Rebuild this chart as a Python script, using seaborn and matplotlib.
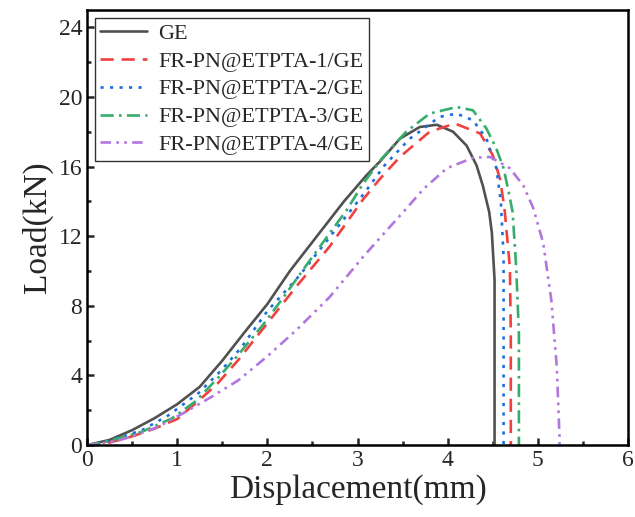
import numpy as np
import pandas as pd
import seaborn as sns
from matplotlib import pyplot as plt
from matplotlib.ticker import MultipleLocator

# load-displacement curves
ge_x = [0, 0.25, 0.5, 0.75, 1.0, 1.25, 1.5, 1.75, 2.0, 2.25, 2.55, 2.85, 3.1, 3.25, 3.47, 3.69, 3.88, 4.06, 4.21, 4.32, 4.39, 4.46, 4.49, 4.52, 4.52]
ge_y = [0, 0.3, 0.86, 1.55, 2.35, 3.35, 4.85, 6.5, 8.1, 10.0, 12.0, 14.0, 15.5, 16.3, 17.6, 18.27, 18.4, 18.0, 17.2, 16.07, 14.9, 13.4, 12.2, 9.5, 0]

fr1_x = [0, 0.25, 0.5, 0.75, 1.0, 1.25, 1.45, 1.68, 2.0, 2.32, 2.69, 3.06, 3.25, 3.47, 3.80, 4.08, 4.36, 4.50, 4.58, 4.63, 4.69, 4.70, 4.70]
fr1_y = [0, 0.15, 0.5, 0.95, 1.5, 2.6, 3.55, 4.9, 7.0, 9.1, 11.4, 14.1, 15.3, 16.55, 18.0, 18.47, 17.9, 16.65, 15.3, 13.6, 10.2, 6.4, 0]

fr2_x = [0, 0.25, 0.61, 0.9, 1.23, 1.49, 1.71, 2.0, 2.36, 2.73, 3.08, 3.30, 3.58, 3.91, 4.10, 4.28, 4.43, 4.54, 4.59, 4.62, 4.62]
fr2_y = [0, 0.25, 0.86, 1.7, 2.96, 4.3, 5.6, 7.7, 9.76, 12.2, 14.5, 16.07, 17.6, 18.85, 19.04, 18.66, 17.6, 15.9, 13.97, 10.8, 0]

fr3_x = [0, 0.25, 0.6, 0.94, 1.2, 1.46, 1.68, 1.95, 2.18, 2.47, 2.88, 3.06, 3.27, 3.54, 3.80, 4.10, 4.28, 4.43, 4.54, 4.62, 4.67, 4.72, 4.76, 4.79, 4.79]
fr3_y = [0, 0.25, 0.75, 1.53, 2.5, 3.9, 5.2, 6.9, 8.5, 10.6, 13.5, 15.0, 16.46, 18.0, 19.04, 19.42, 19.23, 18.18, 17.03, 15.9, 14.7, 13.4, 10.2, 6.4, 0]

fr4_x = [0, 0.3, 0.5, 0.79, 1.09, 1.38, 1.68, 2.0, 2.32, 2.69, 3.06, 3.30, 3.51, 3.73, 3.99, 4.28, 4.47, 4.69, 4.84, 4.95, 5.06, 5.15, 5.21, 5.24, 5.24]
fr4_y = [0, 0.2, 0.5, 1.05, 1.9, 2.77, 3.73, 5.1, 6.6, 8.5, 10.8, 12.2, 13.4, 14.7, 15.9, 16.5, 16.55, 15.9, 14.9, 13.6, 11.6, 8.3, 4.5, 0.5, 0]

labels = ['GE', 'FR-PN@ETPTA-1/GE', 'FR-PN@ETPTA-2/GE', 'FR-PN@ETPTA-3/GE', 'FR-PN@ETPTA-4/GE']
colors = ['#515151', '#F14040', '#1A6FDF', '#37AD6B', '#B177DE']
styles = ['-', (0, (5, 3)), (0, (1.2, 2.4)), (0, (5, 2, 1, 2)), (0, (4, 2, 1, 2, 1, 2))]

sns.set_style('ticks')
plt.rcParams['font.family'] = ['Liberation Serif', 'DejaVu Serif']

fig = plt.figure(figsize=(6.35, 5.17), dpi=100)
ax = fig.add_axes([0.137, 0.139, 0.852, 0.842])

series = [(ge_x, ge_y), (fr1_x, fr1_y), (fr2_x, fr2_y), (fr3_x, fr3_y), (fr4_x, fr4_y)]
for (x, y), lab, c, ls in zip(series, labels, colors, styles):
    df = pd.DataFrame({'x': x, 'y': y})
    sns.lineplot(data=df, x='x', y='y', ax=ax, sort=False, estimator=None,
                 color=c, linestyle=ls, linewidth=1.9, label=lab)

ax.set_xlim(0, 6)
ax.set_ylim(0, 25)
ax.xaxis.set_major_locator(MultipleLocator(1))
ax.xaxis.set_minor_locator(MultipleLocator(0.5))
ax.yaxis.set_major_locator(MultipleLocator(4))
ax.yaxis.set_minor_locator(MultipleLocator(2))
ax.tick_params(which='both', direction='in', width=1.8, labelsize=17, top=False, right=False)
ax.tick_params(which='major', length=5)
ax.tick_params(which='minor', length=3)
for s in ax.spines.values():
    s.set_linewidth(1.8)
    s.set_color('black')

ax.set_xlabel('Displacement(mm)', fontsize=24, labelpad=2)
ax.set_ylabel('Load(kN)', fontsize=24, labelpad=4)

leg = ax.legend(loc='upper left', fontsize=16, frameon=True, fancybox=False,
                edgecolor='black', handlelength=2.1, labelspacing=0.33,
                borderaxespad=0.35, borderpad=0.25, handletextpad=0.5)
leg.get_frame().set_linewidth(1.0)

fig.savefig('out.png', dpi=100)
